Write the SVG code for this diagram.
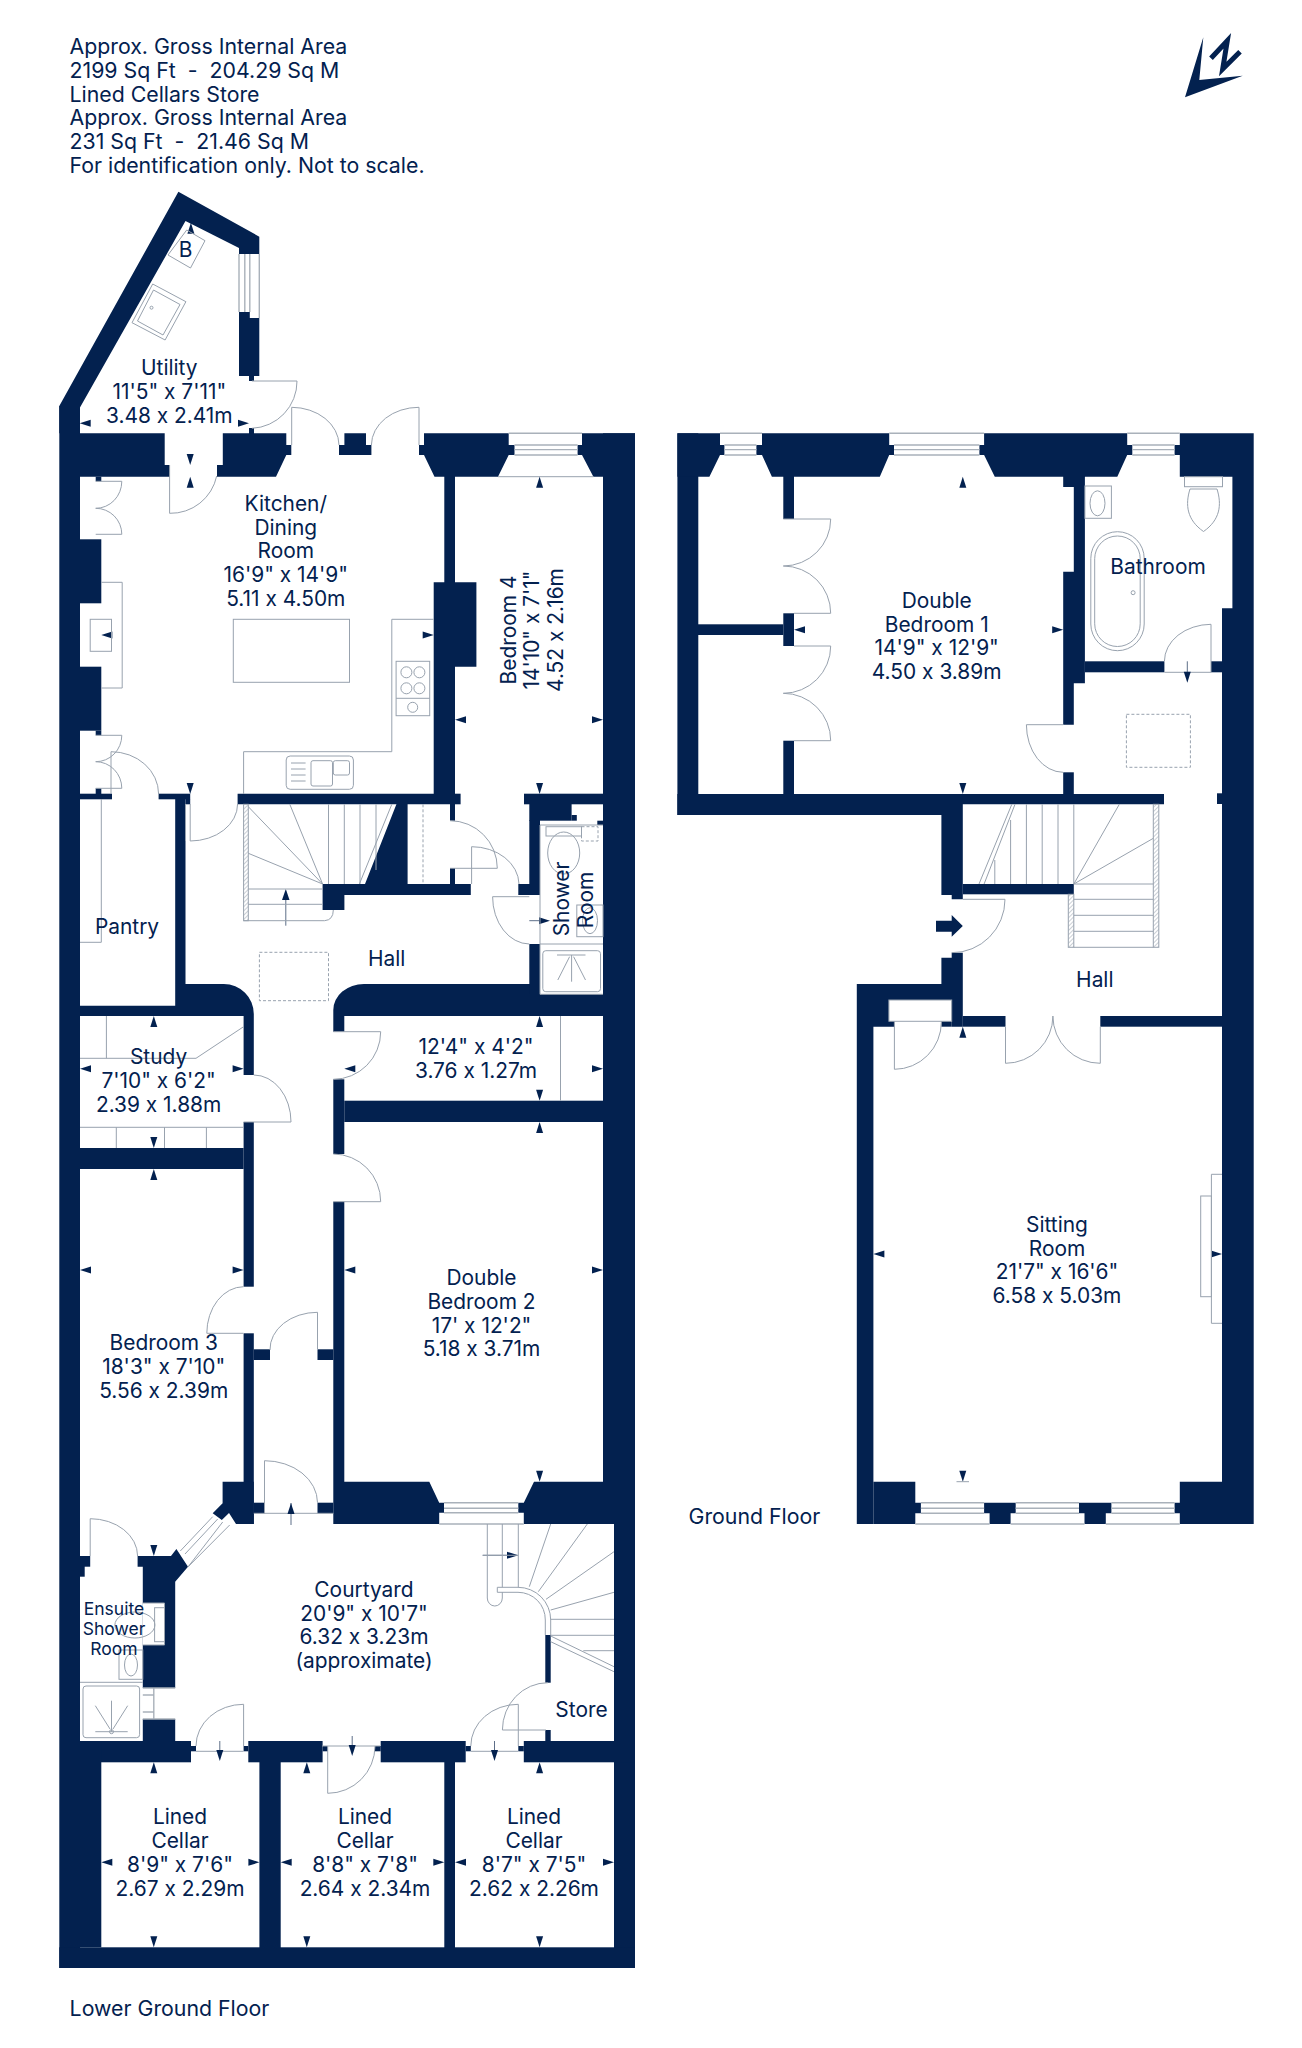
<svg xmlns="http://www.w3.org/2000/svg" width="1302" height="2048" viewBox="0 0 1302 2048">
<style>
.w{fill:#03214f;stroke:none}
.l{fill:none;stroke:#98a2ae;stroke-width:1}
.g{fill:none;stroke:#a9b1ba;stroke-width:1.4}
.d{fill:none;stroke:#98a2ae;stroke-width:1;stroke-dasharray:3 2}
.h{fill:url(#hatch);stroke:#98a2ae;stroke-width:1}
.k{fill:none;stroke:#5d6e88;stroke-width:1}
text{font-family:"Inter","Liberation Sans",sans-serif;font-size:20.9px;font-feature-settings:"calt" 0;fill:#03214f;text-anchor:middle}
.s{font-size:17.5px}
.a{text-anchor:start;font-size:21.3px}
.n{fill:#03214f}
</style>
<defs>
<pattern id="hatch" width="3" height="3" patternUnits="userSpaceOnUse" patternTransform="rotate(45)"><rect width="3" height="3" fill="#fff"/><line x1="0" y1="0" x2="0" y2="3" stroke="#98a2ae" stroke-width="1"/></pattern>
<path id="u" class="n" d="M0,0L3.5,11H-3.5Z"/>
<path id="o" class="n" d="M0,0L3.5,-11H-3.5Z"/>
<path id="e" class="n" d="M0,0L-11,3.5V-3.5Z"/>
<path id="f" class="n" d="M0,0L11,3.5V-3.5Z"/>
</defs>
<rect width="1302" height="2048" fill="#fff"/>

<g id="title">
<text class="a" x="69.5" y="54">Approx. Gross Internal Area</text>
<text class="a" x="69.5" y="77.8" xml:space="preserve">2199 Sq Ft  -  204.29 Sq M</text>
<text class="a" x="69.5" y="101.6">Lined Cellars Store</text>
<text class="a" x="69.5" y="125.4">Approx. Gross Internal Area</text>
<text class="a" x="69.5" y="149.2" xml:space="preserve">231 Sq Ft  -  21.46 Sq M</text>
<text class="a" x="69.5" y="173">For identification only. Not to scale.</text>
</g>
<g id="north-arrow">
<polygon class="n" points="1203.3,37.3 1185,97.3 1242.7,75.7 1199.3,80"/>
<path d="M1211,58.3L1227.3,40.7L1222.7,69L1240,51.7" fill="none" stroke="#03214f" stroke-width="5"/>
</g>

<g id="walls-lower">
<polygon class="w" points="178.4,191.7 259.3,236.7 259.3,254 239,254 239,248 185.5,221 79.7,408 79.7,433.3 59.3,433.3 59.3,406"/>
<rect class="w" x="59.3" y="406" width="20.7" height="1562"/>
<polygon class="w" points="239,312 249.8,312 249.8,318 259.3,318 259.3,376 254,376 254,381 249,381 249,376 239,376"/>
<rect class="w" x="249" y="428" width="5" height="6"/>
<polygon class="w" points="80,433.3 164.7,433.3 164.7,465 170,465 170,476.7 80,476.7"/>
<polygon class="w" points="222.8,433.3 286.3,433.3 286.3,445 291.3,445 291.3,455 286.3,455 276,476.7 217,476.7 217,465 222.8,465"/>
<polygon class="w" points="344.4,433.3 366,433.3 366,445 371.4,445 371.4,455 339,455 339,445 344.4,445"/>
<polygon class="w" points="424,433.3 508.7,433.3 508.7,445 514.5,445 514.5,455 508.7,455 498,476.7 455,476.7 455,582.3 476.4,582.3 476.4,666.7 455,666.7 455,820.7 450,820.7 450,804.3 237.6,804.3 237.6,793.7 433.7,793.7 433.7,582.3 444.3,582.3 444.3,476.7 434.5,476.7 424,455 419,455 419,445 424,445"/>
<rect class="w" x="455" y="793.7" width="5.6" height="10.6"/>
<polygon class="w" points="582,433.3 635,433.3 635,476.7 593.4,476.7 582,455 577.6,455 577.6,445 582,445"/>
<rect class="w" x="603" y="433.3" width="32" height="1090.7"/>
<rect class="w" x="614" y="1524" width="21" height="444"/>
<rect class="w" x="59.3" y="1947.3" width="575.7" height="20.7"/>
<rect class="w" x="95.7" y="476.7" width="5.6" height="4.6"/>
<rect class="w" x="80" y="539.3" width="21.3" height="64"/>
<rect class="w" x="80" y="666.7" width="21.3" height="64"/>
<rect class="w" x="95.7" y="730.7" width="5.6" height="4.6"/>
<rect class="w" x="80" y="793.7" width="32" height="5.6"/>
<rect class="w" x="95.7" y="788.3" width="5.6" height="6"/>
<rect class="w" x="158.6" y="793.7" width="31.6" height="5.6"/>
<rect class="w" x="185.5" y="799" width="4.7" height="5.3"/>
<path class="w" d="M175.2,799H185.5V984H223.8A30,30 0 0 1 253.8,1014V1075H243.6V1016H80V1005.7H175.2Z"/>
<path class="w" d="M603,994.3H540V984H364A30.7,26 0 0 0 333.3,1010V1031.7H344.3V1016H603Z"/>
<rect class="w" x="524" y="793.7" width="79" height="10.6"/>
<rect class="w" x="529.3" y="804" width="42.3" height="16.7"/>
<rect class="w" x="571.6" y="815" width="5.2" height="5.7"/>
<rect class="w" x="597.3" y="820.7" width="5.7" height="4.3"/>
<rect class="w" x="529.3" y="820" width="10.7" height="75"/>
<rect class="w" x="518.3" y="884" width="21.7" height="11"/>
<rect class="w" x="529.3" y="944" width="10.7" height="50"/>
<polygon class="w" points="396.5,804 407.6,804 407.6,884 470.8,884 470.8,895 344.4,895 344.4,910 322.6,910 322.6,884 365,884"/>
<rect class="w" x="450" y="868" width="5" height="16"/>
<rect class="w" x="243.6" y="1122" width="10.2" height="164.7"/>
<rect class="w" x="80" y="1148" width="163.6" height="21"/>
<rect class="w" x="243.6" y="1333.3" width="10.2" height="190.7"/>
<rect class="w" x="253.8" y="1349.3" width="16.2" height="10.7"/>
<rect class="w" x="317.5" y="1349.3" width="15.8" height="10.7"/>
<rect class="w" x="333.3" y="1079.3" width="11" height="74.7"/>
<rect class="w" x="344.3" y="1100.7" width="258.7" height="21.3"/>
<polygon class="w" points="333.3,1201.7 344.3,1201.7 344.3,1481.7 429.3,1481.7 439.2,1502.7 444,1502.7 444,1512.7 439.2,1512.7 439.2,1524 333.3,1524"/>
<polygon class="w" points="534,1481.7 603,1481.7 603,1524 523.8,1524 523.8,1512.7 518.3,1512.7 518.3,1502.7 523.8,1502.7"/>
<rect class="w" x="253.8" y="1502.7" width="10.7" height="10.6"/>
<rect class="w" x="317.5" y="1502.7" width="15.8" height="10.6"/>
<polygon class="w" points="243.6,1481.7 222.6,1481.7 222.6,1503.3 212.7,1513.3 221.8,1520 229,1513 236,1524 253.8,1524 253.8,1481.7"/>
<polygon class="w" points="137.6,1556 171,1556 176.4,1549 188,1566.7 175.2,1581.7 175.2,1688 142.8,1688 142.8,1566.7 137.6,1566.7"/>
<rect class="w" x="80" y="1556" width="10.2" height="10.7"/>
<rect class="w" x="80" y="1566" width="4.7" height="10.7"/>
<rect class="w" x="142.8" y="1719" width="32.4" height="22"/>
<rect class="w" x="80" y="1741" width="111" height="21.3"/>
<rect class="w" x="80" y="1741" width="21.3" height="206.3"/>
<rect class="w" x="191" y="1746" width="5" height="5.3"/>
<rect class="w" x="248.3" y="1741" width="74.3" height="21.3"/>
<rect class="w" x="243.6" y="1746" width="4.7" height="5.3"/>
<rect class="w" x="322.6" y="1746" width="5.1" height="5.3"/>
<rect class="w" x="380.7" y="1741" width="85" height="21.3"/>
<rect class="w" x="375" y="1746" width="5.7" height="5.3"/>
<rect class="w" x="465.7" y="1746" width="5.1" height="5.3"/>
<rect class="w" x="523.8" y="1741" width="111.2" height="21.3"/>
<rect class="w" x="518.3" y="1746" width="5.5" height="5.3"/>
<rect class="w" x="259.4" y="1762" width="21.3" height="186"/>
<rect class="w" x="444.3" y="1762" width="10.7" height="186"/>
<rect class="w" x="545.3" y="1635" width="5.4" height="47.7"/>
<rect class="w" x="545.3" y="1730" width="5.4" height="11"/>
<rect fill="#fff" x="142.8" y="1603" width="21.7" height="42"/>
</g>

<g id="walls-ground">
<rect class="w" x="677.4" y="433.3" width="20.9" height="381.7"/>
<polygon class="w" points="677.4,433.3 720,433.3 720,445 724.4,445 724.4,455 720,455 709.4,476.7 677.4,476.7"/>
<polygon class="w" points="762,433.3 889.2,433.3 889.2,445 894,445 894,455 889.2,455 879.8,476.7 794,476.7 794,519 783.3,519 783.3,476.7 771.9,476.7 762,455 756.4,455 756.4,445 762,445"/>
<polygon class="w" points="984.1,433.3 1127.2,433.3 1127.2,445 1132.3,445 1132.3,455 1127.2,455 1117.3,476.7 1084.9,476.7 1084.9,683.3 1073.8,683.3 1073.8,724.7 1063.2,724.7 1063.2,571.7 1073.8,571.7 1073.8,487 1063.2,487 1063.2,476.7 994.8,476.7 984.1,455 979.4,455 979.4,445 984.1,445"/>
<polygon class="w" points="1179.8,433.3 1253.7,433.3 1253.7,1524 1222,1524 1222,608.3 1232.4,608.3 1232.4,476.7 1179.8,476.7 1179.8,455 1174.6,455 1174.6,445 1179.8,445"/>
<rect class="w" x="783.3" y="613.3" width="10.7" height="32.7"/>
<rect class="w" x="783.3" y="740.7" width="10.7" height="53.3"/>
<rect class="w" x="698" y="624.3" width="85.3" height="10.7"/>
<polygon class="w" points="677.4,794 1164,794 1164,804.3 962.8,804.3 962.8,899.3 951.7,899.3 951.7,895 941.4,895 941.4,815 677.4,815"/>
<rect class="w" x="1063.2" y="772.3" width="10.6" height="22"/>
<rect class="w" x="1084.9" y="661.3" width="79.5" height="11"/>
<rect class="w" x="1211" y="661.3" width="11" height="11"/>
<rect class="w" x="1217" y="793.3" width="5" height="10.7"/>
<rect class="w" x="962.8" y="884" width="111" height="10.3"/>
<polygon class="w" points="951.7,952.7 962.8,952.7 962.8,1026.7 951.7,1026.7 951.7,1000 888.9,1000 888.9,1021.3 894.4,1021.3 894.4,1026.7 873.4,1026.7 873.4,1524 856.8,1524 856.8,984 941.4,984 941.4,957.7 951.7,957.7"/>
<rect class="w" x="941.4" y="1021.3" width="10.3" height="5.4"/>
<rect class="w" x="962.8" y="1016" width="42.7" height="10.7"/>
<rect class="w" x="1100.3" y="1016" width="121.7" height="10.7"/>
<polygon class="w" points="873.4,1481.7 915.3,1481.7 915.3,1502.7 920.9,1502.7 920.9,1513.3 915.3,1513.3 915.3,1524 873.4,1524"/>
<polygon class="w" points="984.1,1502.7 1015.7,1502.7 1015.7,1513.3 1010.6,1513.3 1010.6,1524 989.6,1524 989.6,1513.3 984.1,1513.3"/>
<polygon class="w" points="1079,1502.7 1111.4,1502.7 1111.4,1513.3 1105.8,1513.3 1105.8,1524 1084.5,1524 1084.5,1513.3 1079,1513.3"/>
<polygon class="w" points="1179.8,1481.7 1222,1481.7 1222,1524 1179.8,1524 1179.8,1513.3 1174.6,1513.3 1174.6,1502.7 1179.8,1502.7"/>
<polygon class="n" points="936,920.7 951.7,920.7 951.7,915 962.8,926 951.7,936.7 951.7,931.7 936,931.7"/>
</g>

<g id="connectors">
<g id="doors" class="l">
<path class="l" d="M251.9,381H297A47,47 0 0 1 251.9,428.3"/>
<path class="l" d="M339,445A47.5,38 0 0 0 291.7,407.3V445"/>
<path class="l" d="M371.4,445A47.5,38 0 0 1 419,407.3V445"/>
<path class="l" d="M169.6,465V513.3A47,47 0 0 0 216.7,476"/>
<path class="l" d="M95.7,481.3H121.8A26,27 0 0 1 95.7,508.3A26,26 0 0 1 121.8,534.3H95.7"/>
<path class="l" d="M95.7,735.3H121.8A26,26.4 0 0 1 95.7,761.7A26,26.6 0 0 1 121.8,788.3H95.7"/>
<path class="l" d="M111,794V751.7A47.6,42.3 0 0 1 158.6,794"/>
<path class="l" d="M190.2,804V841A47.4,37 0 0 0 237.6,804M185.5,804V841"/>
<path class="l" d="M450,820.7A47.3,47.6 0 0 1 497.3,868.3H450"/>
<path class="l" d="M471.6,884V846.7A47.4,38 0 0 1 519,884"/>
<path class="l" d="M529.3,896.7H492.6A37,47.3 0 0 0 529.3,944"/>
<path class="l" d="M253.8,1075A37.2,47 0 0 1 291,1122H243.6"/>
<path class="l" d="M333.3,1031.7H380.7A47.4,47.6 0 0 1 333.3,1079.3"/>
<path class="l" d="M333.3,1154A47.4,47.7 0 0 1 380.7,1201.7H333.3"/>
<path class="l" d="M243.6,1286.7A37,46.6 0 0 0 206.8,1333.3H243.6"/>
<path class="l" d="M317.5,1349.3V1312.3A47.5,37 0 0 0 270,1350"/>
<path class="l" d="M264.5,1513.3V1460.7A53,42 0 0 1 317.5,1502.7"/>
<path class="l" d="M90.2,1556V1518.7A47.4,37.3 0 0 1 137.6,1556"/>
<path class="l" d="M243.6,1746V1704.3A47.6,41.7 0 0 0 196,1746"/>
<path class="l" d="M327.7,1746V1793.3A47.3,47.3 0 0 0 375,1746"/>
<path class="l" d="M518.3,1746V1704.3A47.5,41.7 0 0 0 470.8,1746"/>
<path class="l" d="M547.9,1682.7A45.5,47.3 0 0 0 502.4,1730H546"/>
<path class="l" d="M253.8,1513.3H333.3M196,1751.3H243.6M322,1746H380M470.8,1751.3H518.3"/>
<path class="l" d="M783.3,519H830.7A47.4,47 0 0 1 783.3,566A47.4,47.3 0 0 1 830.7,613.3H794"/>
<path class="l" d="M794,646H830.7A47.4,47.3 0 0 1 783.3,693.3A47.4,47.4 0 0 1 830.7,740.7H794"/>
<path class="l" d="M1063.2,724.7H1026.4A37,47.6 0 0 0 1063.2,772.3"/>
<path class="l" d="M1211,672.3V624.3A47,37 0 0 0 1164.4,661.3M1164.4,672.3H1211"/>
<path class="l" d="M962.8,899.3H1005A53,53.4 0 0 1 951.7,952.7"/>
<path class="l" d="M1005.5,1026.7V1063.3A47.4,47.3 0 0 0 1052.9,1016A47.4,47.3 0 0 0 1100.3,1063.3V1026.7"/>
<path class="l" d="M894.4,1021.7V1069.3A47,47.6 0 0 0 941.4,1021.7"/>
</g>

<g id="windows">
<path class="g" d="M239,254V312M244.8,254V312M249.8,254V312M259.3,254V318"/>
<path class="g" d="M508.7,433.3H582M514.5,445H577.6M514.5,449.6H577.6M514.5,455H577.6"/>
<path class="l" d="M498,476.7H593.4"/>
<path class="g" d="M720,433.3H762M724.4,445H756.4M724.4,449.6H756.4M724.4,455H756.4"/>
<path class="g" d="M889.2,433.3H984.1M894,445H979.4M894,449.6H979.4M894,455H979.4"/>
<path class="g" d="M1127.2,433.3H1179.8M1132.3,445H1174.6M1132.3,449.6H1174.6M1132.3,455H1174.6"/>
<path class="g" d="M444,1502.7H518.3M444,1508.3H518.3M444,1512.7H518.3M439.2,1524H523.8"/>
<path class="g" d="M920.9,1502.7H984.1M920.9,1508.3H984.1M920.9,1513.3H984.1M915.3,1524H989.6"/>
<path class="g" d="M1015.7,1502.7H1079M1015.7,1508.3H1079M1015.7,1513.3H1079M1010.6,1524H1084.5"/>
<path class="g" d="M1111.4,1502.7H1174.6M1111.4,1508.3H1174.6M1111.4,1513.3H1174.6M1105.8,1524H1179.8"/>
<path class="l" d="M212.7,1516.7L180.3,1551M217.7,1519L185,1554M222.7,1522L188.2,1566.7M229.7,1525L188.2,1566.7"/>
<path class="g" d="M142.8,1688H153.8V1719H142.8M142.8,1695H153.8M142.8,1712H153.8M153.8,1688H175.2M153.8,1719H175.2"/>
</g>

<g id="dimension-ticks">
<use href="#f" x="79.7" y="423.3"/><use href="#e" x="249" y="423.3"/><use href="#u" x="190.9" y="222.7"/>
<use href="#o" x="190.2" y="465"/><use href="#u" x="190.2" y="476.7"/><use href="#f" x="101.3" y="635"/><use href="#e" x="433.7" y="635"/><use href="#o" x="190.2" y="794"/>
<use href="#u" x="539.6" y="476.7"/><use href="#f" x="455" y="719.7"/><use href="#e" x="603" y="719.7"/><use href="#o" x="539.6" y="794"/>
<use href="#u" x="153.8" y="1016"/><use href="#f" x="80" y="1068.7"/><use href="#e" x="243.6" y="1068.7"/><use href="#o" x="153.8" y="1148"/>
<use href="#f" x="344.3" y="1068.7"/><use href="#e" x="603" y="1068.7"/><use href="#u" x="539.6" y="1016"/><use href="#o" x="539.6" y="1100.7"/>
<use href="#u" x="539.6" y="1122"/><use href="#f" x="344.3" y="1270"/><use href="#e" x="603" y="1270"/><use href="#o" x="539.6" y="1481.7"/>
<use href="#u" x="153.8" y="1169"/><use href="#f" x="80" y="1270"/><use href="#e" x="243.6" y="1270"/><use href="#o" x="153.8" y="1556"/>
<use href="#u" x="153.8" y="1762.3"/><use href="#o" x="153.8" y="1947.3"/><use href="#f" x="101.3" y="1862.3"/><use href="#e" x="259.4" y="1862.3"/>
<use href="#u" x="306.8" y="1762.3"/><use href="#o" x="306.8" y="1947.3"/><use href="#f" x="280.7" y="1862.3"/><use href="#e" x="444.3" y="1862.3"/>
<use href="#u" x="539.6" y="1762.3"/><use href="#o" x="539.6" y="1947.3"/><use href="#f" x="455" y="1862.3"/><use href="#e" x="614" y="1862.3"/>
<use href="#u" x="962.8" y="476.7"/><use href="#o" x="962.8" y="794"/><use href="#f" x="794" y="629.7"/><use href="#e" x="1063.2" y="629.7"/>
<use href="#u" x="962.8" y="1026.7"/><use href="#o" x="962.8" y="1481.7"/><use href="#f" x="873.4" y="1254"/><use href="#e" x="1222" y="1254"/>
<path class="l" d="M956.5,1481.7H969"/>
</g>

<g id="flow-arrows">
<path class="k" d="M285.8,925.7V899M291,1525V1503M219.8,1741V1755M352.2,1736V1750M494.5,1741V1755M482.7,1555.3H508M529.3,920.7H540M1187.3,661.3V672"/>
<path class="n" d="M285.8,889L289.5,900H282Z"/><path class="n" d="M291,1503L294.5,1514H287.5Z"/>
<path class="n" d="M219.8,1761L216.3,1750H223.3Z"/><path class="n" d="M352.2,1756L348.7,1745H355.7Z"/><path class="n" d="M494.5,1761L491,1750H498Z"/>
<path class="n" d="M518.3,1555.3L507,1551.8V1558.8Z"/><path class="n" d="M550,920.7L539,917.2V924.2Z"/><path class="n" d="M1187.3,682.7L1183.8,671.7H1190.8Z"/>
</g>
</g>

<g id="utility">
<polygon class="l" points="186.7,230 205,240.7 190.5,268 168,255"/>
<polygon class="l" points="152.7,284 185.9,301.7 165.1,340 132,322.7"/>
<polygon class="l" points="153.5,290 180,304.5 163,335 137.5,321"/>
<circle class="l" cx="151.5" cy="307.7" r="1.5"/>
<text x="185.5" y="256.5">B</text>
<text x="169.3" y="375">Utility</text><text x="169.3" y="398.8">11'5" x 7'11"</text><text x="169.3" y="422.6">3.48 x 2.41m</text>
</g>
<g id="kitchen">
<rect class="l" x="233.3" y="619.3" width="116.2" height="63"/>
<path class="l" d="M433.7,619.3H391.8V751.7H243.6V794"/>
<path class="l" d="M101.3,582.3H122.2V688H101.3"/>
<rect class="l" x="90.2" y="619.3" width="21.3" height="32"/>
<rect class="l" x="396.1" y="661.3" width="33.6" height="54.4"/><path class="l" d="M396.1,698.3H429.7"/>
<circle class="l" cx="406.4" cy="672.3" r="5.5"/><circle class="l" cx="419.4" cy="672.3" r="5.5"/><circle class="l" cx="406.4" cy="688.3" r="5.5"/><circle class="l" cx="419.4" cy="688.3" r="5.5"/><circle class="l" cx="412.7" cy="707.3" r="5"/>
<rect class="l" x="286.2" y="756" width="67.2" height="33.3" rx="4"/><rect class="l" x="311" y="760.7" width="21.5" height="25.3" rx="2"/><rect class="l" x="333.3" y="760.7" width="16.2" height="14.3" rx="2"/>
<path class="l" d="M291,763H305.6M291,769H305.6M291,775H305.6M291,781H305.6"/>
<text x="285.8" y="510.7">Kitchen/</text><text x="285.8" y="534.5">Dining</text><text x="285.8" y="558.3">Room</text><text x="285.8" y="582">16'9" x 14'9"</text><text x="285.8" y="605.8">5.11 x 4.50m</text>
</g>
<g id="bedroom-4">
<text transform="translate(515.5,630) rotate(-90)">Bedroom 4</text>
<text transform="translate(539.3,630) rotate(-90)">14'10" x 7'1"</text>
<text transform="translate(563,630) rotate(-90)">4.52 x 2.16m</text>
</g>
<g id="hall-lower">
<rect class="h" x="243.6" y="804.3" width="4.7" height="116.4"/>
<path class="l" d="M248.3,889H322.6M248.3,904.3H322.6M243.6,920.7H324.6Q333.3,920 333.3,910"/>
<path class="l" d="M248.3,806.7L322.6,884M248.3,853.3L322.6,884M289.8,804.3L322.6,884"/>
<path class="l" d="M328.5,804.3V884M344.3,804.3V884M360,804.3V884M376,804.3V870"/>
<path class="l" d="M391.8,804.3L359.4,884"/>
<path class="d" d="M423,804.3V884"/>
<rect class="d" x="259.4" y="952.3" width="69.1" height="48.4"/>
<text x="386.6" y="966">Hall</text>
</g>
<g id="pantry">
<path class="l" d="M101.3,799V942.3H80"/>
<text x="127" y="933.5">Pantry</text>
</g>
<g id="shower-room">
<path class="l" d="M540,825H603M540,825V994.3H603"/>
<rect class="l" x="546" y="826.7" width="35.5" height="9.3"/>
<ellipse class="l" cx="563.7" cy="853" rx="16" ry="21"/>
<rect class="d" x="581.5" y="826.7" width="16.5" height="14.3"/>
<rect class="l" x="576.8" y="905" width="26.2" height="31.7"/>
<ellipse class="l" cx="590" cy="920.7" rx="7.5" ry="13"/>
<path class="l" d="M540,944H603"/>
<rect class="l" x="542.8" y="950.7" width="57.7" height="41" rx="3"/>
<path class="l" d="M557,955H585.5M571.6,955V981.7M569.6,956.7L557.8,980M573.6,956.7L585.5,980"/>
<text transform="translate(569,899) rotate(-90)">Shower</text>
<text transform="translate(592.6,900) rotate(-90)">Room</text>
</g>
<g id="study">
<path class="l" d="M106.4,1016V1058.3M80,1058.3H196L243.6,1026.7M80,1127.3H243.6M116.3,1127.3V1148M164.5,1127.3V1148M206.4,1127.3V1148"/>
<text x="158.6" y="1064">Study</text><text x="158.6" y="1087.8">7'10" x 6'2"</text><text x="158.6" y="1111.6">2.39 x 1.88m</text>
</g>
<g id="store-room">
<path class="l" d="M560.5,1016V1100.7"/>
<text x="476" y="1054">12'4" x 4'2"</text><text x="476" y="1078">3.76 x 1.27m</text>
</g>
<g id="double-bedroom-2">
<text x="481.5" y="1285">Double</text><text x="481.5" y="1308.8">Bedroom 2</text><text x="481.5" y="1332.6">17' x 12'2"</text><text x="481.5" y="1356.4">5.18 x 3.71m</text>
</g>
<g id="bedroom-3">
<text x="163.7" y="1350">Bedroom 3</text><text x="163.7" y="1373.8">18'3" x 7'10"</text><text x="163.7" y="1397.6">5.56 x 2.39m</text>
</g>
<g id="courtyard">
<path class="l" d="M518.3,1524V1587.3M502.3,1524V1587.3M487.3,1524V1598A7.5,8 0 0 0 502.3,1598V1592"/>
<path class="l" d="M482.7,1555.3H518.3"/>
<path class="l" d="M497.3,1587.3H518A32.7,32.7 0 0 1 550.7,1620V1635M497.3,1592.3H518A27.3,27.3 0 0 1 545.3,1620V1635M497.3,1587.3V1592.3"/>
<path class="l" d="M550.7,1524L529.3,1586.7M587.3,1524L538.3,1591.7M614,1551.7L546,1599.3M614,1592.3L550.7,1610M550.7,1619.3H614M550.7,1635.3H614M583.3,1650.7H614M550.7,1636L614,1666.7M550.7,1641.7L614,1671.7"/>
<text x="364" y="1596.7">Courtyard</text><text x="364" y="1620.5">20'9" x 10'7"</text><text x="364" y="1644.3">6.32 x 3.23m</text><text x="364" y="1668">(approximate)</text>
</g>
<g id="store"><text x="581.5" y="1717.3">Store</text></g>
<g id="ensuite">
<ellipse class="l" cx="134.9" cy="1625" rx="20" ry="13"/>
<rect class="l" x="154.6" y="1607.7" width="9.9" height="34"/>
<path class="l" d="M142.8,1603H164.5V1645H142.8"/>
<rect class="l" x="119" y="1650" width="23.8" height="29.3"/>
<ellipse class="l" cx="131" cy="1665" rx="6.5" ry="11"/>
<path class="l" d="M80,1682.3H142.8"/>
<rect class="l" x="83" y="1686" width="56.6" height="51.7" rx="3"/>
<path class="l" d="M95.3,1731.7H127.7M111.5,1731.7V1700.7M110,1729L95.3,1705.7M113,1729L127.7,1705.7"/>
<circle class="l" cx="111.5" cy="1731.7" r="2"/>
<text class="s" x="114" y="1615">Ensuite</text><text class="s" x="114" y="1635">Shower</text><text class="s" x="114" y="1654.7">Room</text>
</g>
<g id="cellar-1"><text x="180" y="1824.3">Lined</text><text x="180" y="1848">Cellar</text><text x="180" y="1872">8'9" x 7'6"</text><text x="180" y="1896">2.67 x 2.29m</text></g>
<g id="cellar-2"><text x="365" y="1824.3">Lined</text><text x="365" y="1848">Cellar</text><text x="365" y="1872">8'8" x 7'8"</text><text x="365" y="1896">2.64 x 2.34m</text></g>
<g id="cellar-3"><text x="534" y="1824.3">Lined</text><text x="534" y="1848">Cellar</text><text x="534" y="1872">8'7" x 7'5"</text><text x="534" y="1896">2.62 x 2.26m</text></g>
<g id="floor-labels"><text class="a" x="69.6" y="2015.7">Lower Ground Floor</text><text class="a" x="688.5" y="1524">Ground Floor</text></g>

<g id="double-bedroom-1">
<text x="936.7" y="607.7">Double</text><text x="936.7" y="631.5">Bedroom 1</text><text x="936.7" y="655.3">14'9" x 12'9"</text><text x="936.7" y="679">4.50 x 3.89m</text>
</g>
<g id="bathroom">
<rect class="l" x="1084.9" y="486" width="26.5" height="32.3"/>
<ellipse class="l" cx="1097.5" cy="503.3" rx="7.5" ry="12.5"/>
<rect class="l" x="1184.5" y="476.7" width="38" height="10"/>
<path class="l" d="M1190,489H1217C1222,505 1220,520 1203.5,531.5C1187,520 1185,505 1190,489Z"/>
<rect class="l" x="1090.8" y="531.7" width="53.4" height="119" rx="26.7"/>
<rect class="l" x="1094.7" y="536" width="45.5" height="110.5" rx="22.7"/>
<circle class="l" cx="1133.1" cy="592.7" r="2"/>
<text x="1158" y="574">Bathroom</text>
</g>
<g id="hall-ground">
<rect class="d" x="1126.4" y="714.3" width="64" height="53"/>
<rect class="h" x="1153.3" y="804.3" width="5.5" height="143"/>
<rect class="h" x="1068.3" y="894.3" width="5.5" height="53"/>
<path class="l" d="M1073.8,884H1153.3M1073.8,899.3H1153.3M1073.8,915.3H1153.3M1073.8,931.3H1153.3M1073.8,947.3H1153.3"/>
<path class="l" d="M994.8,860V884M1010.6,820V884M1026.4,804.3V884M1042.2,804.3V884M1058,804.3V884M1073.8,804.3V884"/>
<path class="l" d="M1011.8,804.3L979,884M1015,804.3L984.1,884"/>
<path class="l" d="M1119.3,804.3L1073.8,884M1153.3,838.3L1073.8,884"/>
<text x="1094.8" y="987.3">Hall</text>
</g>
<g id="sitting-room">
<rect class="l" x="888.9" y="1000" width="62.8" height="21.3"/>
<path class="l" d="M1222,1174.3H1211.4V1323.3H1222"/>
<rect class="l" x="1200.7" y="1196" width="10.7" height="100.7"/>
<text x="1057" y="1231.7">Sitting</text><text x="1057" y="1255.5">Room</text><text x="1057" y="1279.3">21'7" x 16'6"</text><text x="1057" y="1303">6.58 x 5.03m</text>
</g>
</svg>
